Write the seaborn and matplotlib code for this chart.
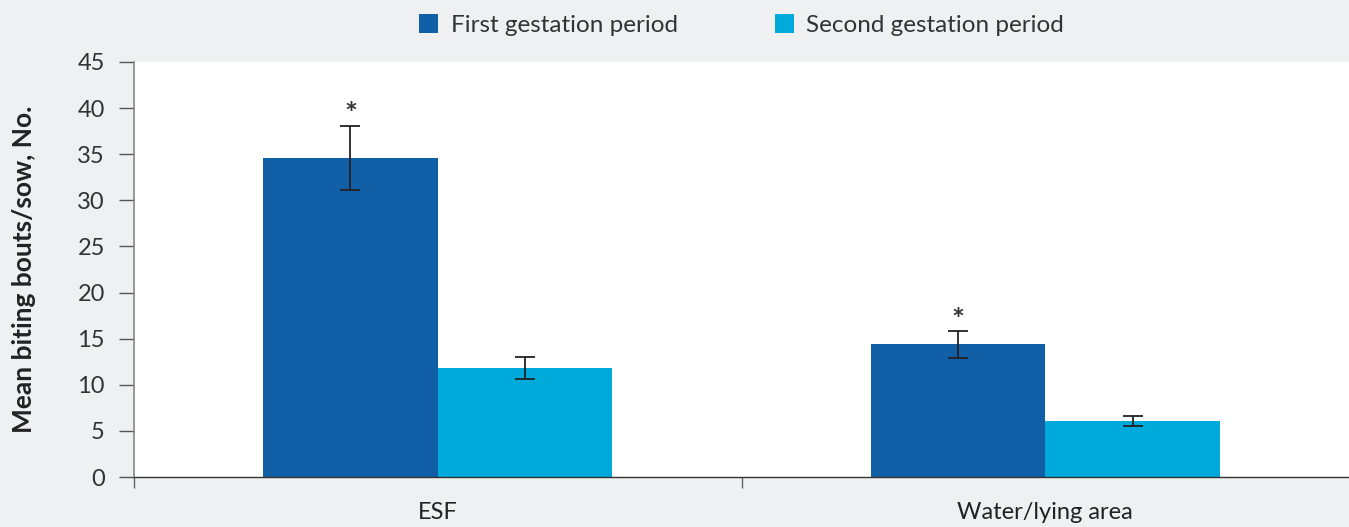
import numpy as np, pandas as pd
import matplotlib
matplotlib.use('Agg')
import matplotlib.pyplot as plt
import seaborn as sns

categories = ['ESF', 'Water/lying area']
periods = ['First gestation period', 'Second gestation period']
first_vals = [34.6, 14.4]
second_vals = [11.8, 6.05]
first_err = [3.5, 1.45]
second_err = [1.2, 0.55]
signif = [True, True]  # asterisk over first gestation bar

colors = ['#115fa6', '#00aadb']
BG = '#eff0f2'

sns.set_theme(style='white')
plt.rcParams['font.family'] = ['Lato', 'DejaVu Sans']

df = pd.DataFrame({
    'area': categories * 2,
    'period': [periods[0]] * 2 + [periods[1]] * 2,
    'value': first_vals + second_vals,
})

fig = plt.figure(figsize=(13.49, 5.27), dpi=100, facecolor=BG)
ax = fig.add_axes([134/1349, 50/527, 1215/1349, 415/527])
ax.set_facecolor('white')

sns.barplot(data=df, x='area', y='value', hue='period', order=categories,
            hue_order=periods, palette=colors, width=0.575, gap=0,
            errorbar=None, saturation=1, ax=ax, edgecolor='none', linewidth=0)

errs = [first_err, second_err]
for cont, err in zip(ax.containers, errs):
    xs = [p.get_x() + p.get_width() / 2 for p in cont.patches]
    ys = [p.get_height() for p in cont.patches]
    ax.errorbar(xs, ys, yerr=err, fmt='none', ecolor='#222222', elinewidth=1.3,
                capsize=7, capthick=1.3, zorder=5)

for p, e, s in zip(ax.containers[0].patches, first_err, signif):
    if s:
        ax.text(p.get_x() + p.get_width() / 2, p.get_height() + e - 0.4, '*',
                ha='center', va='bottom', fontsize=22, fontweight='bold',
                color='#333333')

ax.set_xlim(-0.5, 1.5)
ax.set_ylim(0, 45)
ax.set_yticks(np.arange(0, 46, 5))
ax.tick_params(axis='y', direction='out', length=11, width=1, color='#555555',
               labelsize=17, labelcolor='#333333', pad=10, left=True)
ax.set_xticks([0, 1])
ax.set_xticklabels(categories)
ax.tick_params(axis='x', length=0, labelsize=17, labelcolor='#222222', pad=18)
ax.set_xticks([-0.5, 0.5], minor=True)
ax.tick_params(axis='x', which='minor', direction='out', length=8, width=1,
               color='#666666', bottom=True)

for s in ['top', 'right']:
    ax.spines[s].set_visible(False)
ax.spines['left'].set_color('#888888')
ax.spines['left'].set_linewidth(1.2)
ax.spines['bottom'].set_color('#333333')
ax.spines['bottom'].set_linewidth(1.0)

ax.set_xlabel('')
ax.set_ylabel('Mean biting bouts/sow, No.', fontsize=19, fontweight='bold',
              color='#222222', labelpad=30)

leg = ax.legend(loc='lower center', bbox_to_anchor=(0.5, 1.01), ncol=2,
                frameon=False, fontsize=17.5, handlelength=0.8, handleheight=0.8,
                columnspacing=4.0, handletextpad=0.5)
for t in leg.get_texts():
    t.set_color('#333333')

fig.savefig('out.png', dpi=100, facecolor=BG)
